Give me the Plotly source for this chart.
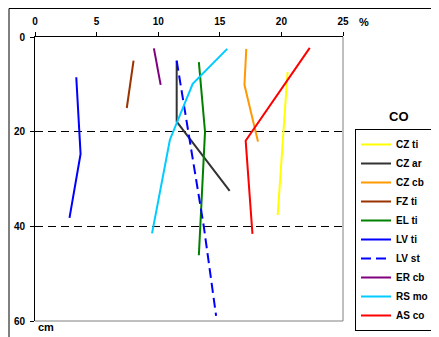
import plotly.graph_objects as go

# ---- data (x = CO %, y = depth cm) ----
names = ["CZ ti", "CZ ar", "CZ cb", "FZ ti", "EL ti", "LV ti", "LV st", "ER cb", "RS mo", "AS co"]
cz_ti_pct = [20.5, 19.7]
cz_ti_cm = [7.4, 37.6]
cz_ar_pct = [11.5, 11.5, 15.8]
cz_ar_cm = [5.0, 17.9, 32.5]
cz_cb_pct = [17.15, 17.0, 18.1]
cz_cb_cm = [2.5, 10.1, 22.1]
fz_ti_pct = [8.0, 7.45]
fz_ti_cm = [5.0, 15.0]
el_ti_pct = [13.3, 13.8, 13.3]
el_ti_cm = [5.3, 20.0, 46.1]
lv_ti_pct = [3.35, 3.7, 2.8]
lv_ti_cm = [8.5, 24.7, 38.2]
lv_st_pct = [11.5, 12.75, 13.7, 14.7]
lv_st_cm = [5.0, 25.0, 40.0, 58.9]
er_cb_pct = [9.65, 10.2]
er_cb_cm = [2.4, 10.1]
rs_mo_pct = [15.6, 12.8, 10.95, 9.5]
rs_mo_cm = [2.5, 9.9, 21.7, 41.5]
as_co_pct = [22.3, 17.1, 17.65]
as_co_cm = [2.3, 21.9, 41.6]

x_ticks = [0, 5, 10, 15, 20, 25]
y_ticks = [0, 20, 40, 60]

xs = [cz_ti_pct, cz_ar_pct, cz_cb_pct, fz_ti_pct, el_ti_pct, lv_ti_pct, lv_st_pct, er_cb_pct, rs_mo_pct, as_co_pct]
ys = [cz_ti_cm, cz_ar_cm, cz_cb_cm, fz_ti_cm, el_ti_cm, lv_ti_cm, lv_st_cm, er_cb_cm, rs_mo_cm, as_co_cm]
colors = ["#FFFF00", "#333333", "#FF9900", "#993300", "#008000", "#0000FF", "#0000FF", "#800080", "#00CCFF", "#FF0000"]
dashes = ["solid"] * 6 + ["10px,5px"] + ["solid"] * 3

FONT = "Arial, Liberation Sans, sans-serif"

fig = go.Figure()
for n, x, y, c, d in zip(names, xs, ys, colors, dashes):
    fig.add_trace(go.Scatter(x=x, y=y, mode="lines", name=n,
                             line=dict(color=c, width=2, dash=d)))

# page has an 8px body margin: figure is placed at (8, 8)
OFF = 8
W, H = 439 - OFF, 337 - OFF
L, T = 27, 29
R = W - 335
B = H - 313
pw, ph = W - L - R, H - T - B

def px2x(px):
    return (px - OFF - L) / pw

def py2y(py):
    return (H - B - (py - OFF)) / ph

fig.update_layout(
    width=W, height=H,
    margin=dict(l=L, r=R, t=T, b=B, pad=0, autoexpand=False),
    paper_bgcolor="white", plot_bgcolor="white",
    font=dict(family=FONT, size=10, color="black"),
    xaxis=dict(side="top", range=[0, 25], tickvals=x_ticks, ticks="outside", ticklen=4,
               tickcolor="black", showline=True, linecolor="black", linewidth=1,
               showgrid=False, zeroline=False, ticklabelstandoff=3,
               tickfont=dict(family=FONT, size=10, weight="bold")),
    yaxis=dict(range=[60, 0], tickvals=y_ticks, ticks="outside", ticklen=4,
               tickcolor="black", showline=True, linecolor="black", linewidth=1,
               showgrid=True, gridcolor="black", gridwidth=1, griddash="8px,5px",
               zeroline=False, ticklabelstandoff=3,
               tickfont=dict(family=FONT, size=10, weight="bold")),
    legend=dict(x=px2x(355), y=py2y(129), xanchor="left", yanchor="top",
                bgcolor="white", bordercolor="black", borderwidth=1,
                font=dict(family=FONT, size=10, weight="bold"),
                tracegroupgap=0, itemwidth=30),
    showlegend=True,
)

# plot area right / bottom border (gray), outer chart border
fig.add_shape(type="line", xref="paper", yref="paper", x0=1, x1=1, y0=0, y1=1,
              line=dict(color="#808080", width=1), layer="above")
fig.add_shape(type="line", xref="paper", yref="paper", x0=0, x1=1, y0=0, y1=0,
              line=dict(color="#808080", width=1), layer="above")
fig.add_shape(type="rect", xref="paper", yref="paper",
              x0=px2x(9), x1=px2x(460), y0=py2y(8.5), y1=py2y(360),
              line=dict(color="black", width=1), fillcolor="rgba(0,0,0,0)", layer="below")

fig.add_annotation(text="CO", xref="paper", yref="paper", x=px2x(399), y=py2y(117),
                   xanchor="center", yanchor="middle", showarrow=False,
                   font=dict(family=FONT, size=13, weight="bold"))
fig.add_annotation(text="%", xref="paper", yref="paper", x=px2x(364), y=py2y(22),
                   xanchor="center", yanchor="middle", showarrow=False,
                   font=dict(family=FONT, size=11, weight="bold"))
fig.add_annotation(text="cm", xref="paper", yref="paper", x=px2x(46), y=py2y(327),
                   xanchor="center", yanchor="middle", showarrow=False,
                   font=dict(family=FONT, size=11, weight="bold"))

fig.write_html("out.html")
